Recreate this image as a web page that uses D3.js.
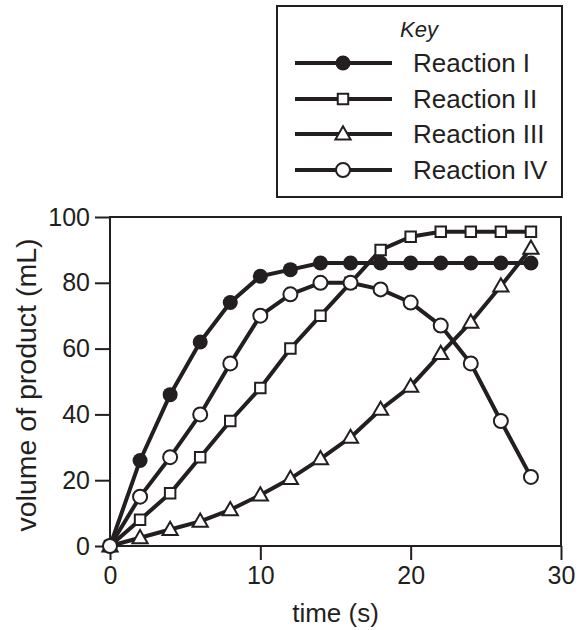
<!DOCTYPE html>
<html>
<head>
<meta charset="utf-8">
<script src="https://cdn.jsdelivr.net/npm/d3@7"></script>
<style>
  body { margin: 0; background: #fff; }
  text { font-family: "Liberation Sans", Arial, sans-serif; fill: #231f20; }
</style>
</head>
<body>
<script>
// data
const times = [0, 2, 4, 6, 8, 10, 12, 14, 16, 18, 20, 22, 24, 26, 28];
const reactionI   = [0, 26, 46, 62, 74, 82, 84, 86, 86, 86, 86, 86, 86, 86, 86];
const reactionII  = [0, 8, 16, 27, 38, 48, 60, 70, 80, 90, 94, 95.5, 95.5, 95.5, 95.5];
const reactionIII = [0, 2.5, 5, 7.5, 11, 15.5, 20.5, 26.5, 33, 41.5, 48.5, 58.5, 68, 79, 90.5];
const reactionIV  = [0, 15, 27, 40, 55.5, 70, 76.5, 80, 80, 78, 74, 67, 55.5, 38, 21];
const seriesNames = ["Reaction I", "Reaction II", "Reaction III", "Reaction IV"];
const markerTypes = ["dot", "square", "triangle", "circle"];
const xTicks = [0, 10, 20, 30];
const yTicks = [0, 20, 40, 60, 80, 100];

const ink = "#231f20";
const width = 579, height = 630;
const svg = d3.select("body").append("svg")
    .attr("width", width)
    .attr("height", height);

const x = d3.scaleLinear().domain([0, 30]).range([110, 561]);
const y = d3.scaleLinear().domain([0, 100]).range([546, 217]);

// frame
svg.append("rect")
    .attr("x", x(0)).attr("y", y(100))
    .attr("width", x(30) - x(0)).attr("height", y(0) - y(100))
    .attr("fill", "none").attr("stroke", ink).attr("stroke-width", 2);

const xAxis = svg.append("g")
    .attr("transform", `translate(0,${y(0)})`)
    .call(d3.axisBottom(x).tickValues(xTicks).tickSize(14).tickPadding(6).tickFormat(d3.format("d")));
const yAxis = svg.append("g")
    .attr("transform", `translate(${x(0)},0)`)
    .call(d3.axisLeft(y).tickValues(yTicks).tickSize(15).tickPadding(5).tickFormat(d3.format("d")));
[xAxis, yAxis].forEach(g => {
    g.select(".domain").remove();
    g.selectAll("line").attr("stroke", ink).attr("stroke-width", 2);
    g.selectAll("text").attr("font-size", 25).attr("fill", ink)
        .attr("font-family", "'Liberation Sans', Arial, sans-serif");
});
xAxis.selectAll("text").attr("dy", "0.71em");

svg.append("text")
    .attr("x", (x(0) + x(30)) / 2).attr("y", 622)
    .attr("text-anchor", "middle").attr("font-size", 26)
    .text("time (s)");
svg.append("text")
    .attr("transform", `translate(36,385) rotate(-90)`)
    .attr("text-anchor", "middle").attr("font-size", 28.5)
    .text("volume of product (mL)");

function drawMarker(g, type, cx, cy) {
    if (type === "dot") {
        g.append("circle").attr("cx", cx).attr("cy", cy).attr("r", 7.5)
            .attr("fill", ink);
    } else if (type === "circle") {
        g.append("circle").attr("cx", cx).attr("cy", cy).attr("r", 7)
            .attr("fill", "#fff").attr("stroke", ink).attr("stroke-width", 2);
    } else if (type === "square") {
        g.append("path").attr("d", d3.symbol(d3.symbolSquare, 110)())
            .attr("transform", `translate(${cx},${cy})`)
            .attr("fill", "#fff").attr("stroke", ink).attr("stroke-width", 2);
    } else {
        g.append("path").attr("d", d3.symbol(d3.symbolTriangle, 100)())
            .attr("transform", `translate(${cx},${cy + 1})`)
            .attr("fill", "#fff").attr("stroke", ink).attr("stroke-width", 2);
    }
}

const allSeries = [reactionI, reactionII, reactionIII, reactionIV];
const line = d3.line().x(d => x(d[0])).y(d => y(d[1]));

allSeries.forEach((vals, i) => {
    const pts = times.map((t, j) => [t, vals[j]]);
    const g = svg.append("g");
    g.append("path").datum(pts).attr("d", line)
        .attr("fill", "none").attr("stroke", ink).attr("stroke-width", 4)
        .attr("stroke-linejoin", "round");
    pts.forEach(p => drawMarker(g, markerTypes[i], x(p[0]), y(p[1])));
});

// key
const key = svg.append("g");
key.append("rect").attr("x", 277).attr("y", 6).attr("width", 285).attr("height", 191)
    .attr("fill", "#fff").attr("stroke", ink).attr("stroke-width", 2);
key.append("text").attr("x", 419).attr("y", 37).attr("text-anchor", "middle")
    .attr("font-size", 22).attr("font-style", "italic").text("Key");
const rowY = [63, 99, 134, 170];
seriesNames.forEach((name, i) => {
    key.append("line").attr("x1", 295).attr("x2", 392)
        .attr("y1", rowY[i]).attr("y2", rowY[i])
        .attr("stroke", ink).attr("stroke-width", 4);
    drawMarker(key, markerTypes[i], 343, rowY[i]);
    key.append("text").attr("x", 413).attr("y", rowY[i] + 9)
        .attr("font-size", 26).text(name);
});
</script>
</body>
</html>
